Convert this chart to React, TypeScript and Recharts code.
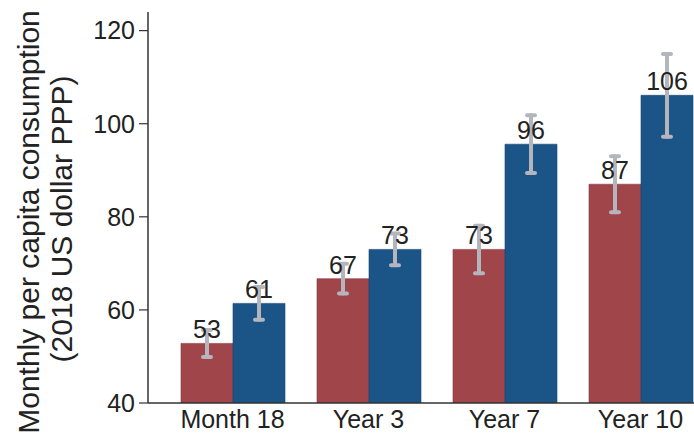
import { BarChart, Bar, XAxis, YAxis, ErrorBar, LabelList } from 'recharts';

const categories = ['Month 18', 'Year 3', 'Year 7', 'Year 10'];
const controlValues = [52.8, 66.7, 73.0, 87.0];
const treatmentValues = [61.4, 73.0, 95.6, 106.1];
const controlErrors = [2.9, 3.2, 5.1, 6.0];
const treatmentErrors = [3.5, 3.4, 6.2, 8.9];
const yTicks = [40, 60, 80, 100, 120];

const data = categories.map((name, i) => ({
  name,
  control: controlValues[i],
  treatment: treatmentValues[i],
  controlErr: controlErrors[i],
  treatmentErr: treatmentErrors[i],
}));

const FONT = '"Liberation Sans", Arial, Helvetica, sans-serif';
const TEXT = '#222';
const AXIS = '#333';
const ERR = '#b5b5bd';

function YTitle() {
  return (
    <g fontFamily={FONT} fontSize={30} fill={TEXT}>
      <text x={39} y={222} textAnchor="middle" transform="rotate(-90, 39, 222)">
        Monthly per capita consumption
      </text>
      <text x={72} y={219} textAnchor="middle" transform="rotate(-90, 72, 219)">
        (2018 US dollar PPP)
      </text>
    </g>
  );
}

export default function App() {
  return (
    <div style={{ position: 'absolute', left: 0, top: 0, width: 694, height: 441, background: '#fff' }}>
      <BarChart
        width={694}
        height={441}
        data={data}
        margin={{ top: 12, right: 0, bottom: 0, left: 0 }}
        barCategoryGap={16.5}
        barGap={0}
      >
        <XAxis
          dataKey="name"
          height={38}
          padding={{ left: 16.5, right: -14.5 }}
          tickLine={false}
          tickSize={0}
          tickMargin={7}
          axisLine={{ stroke: AXIS, strokeWidth: 1.5 }}
          tick={{ fontSize: 25, fill: TEXT, fontFamily: FONT }}
          interval={0}
        />
        <YAxis
          width={148}
          domain={[40, 124]}
          ticks={yTicks}
          allowDataOverflow
          tickSize={9}
          tickMargin={4}
          axisLine={{ stroke: AXIS, strokeWidth: 1.5 }}
          tickLine={{ stroke: AXIS, strokeWidth: 1.2 }}
          tick={{ fontSize: 25, fill: TEXT, fontFamily: FONT }}
          label={<YTitle />}
        />
        <Bar dataKey="control" fill="#a0454a" stroke="#8a3a40" strokeWidth={0.6} isAnimationActive={false}>
          <ErrorBar dataKey="controlErr" width={4} stroke={ERR} strokeWidth={4} strokeLinecap="round" />
          <LabelList
            dataKey="control"
            position="top"
            offset={5}
            formatter={(v: number) => Math.round(v)}
            style={{ fontSize: 25, fill: TEXT, fontFamily: FONT }}
          />
        </Bar>
        <Bar dataKey="treatment" fill="#1b5486" stroke="#164770" strokeWidth={0.6} isAnimationActive={false}>
          <ErrorBar dataKey="treatmentErr" width={4} stroke={ERR} strokeWidth={4} strokeLinecap="round" />
          <LabelList
            dataKey="treatment"
            position="top"
            offset={5}
            formatter={(v: number) => Math.round(v)}
            style={{ fontSize: 25, fill: TEXT, fontFamily: FONT }}
          />
        </Bar>
      </BarChart>
    </div>
  );
}
